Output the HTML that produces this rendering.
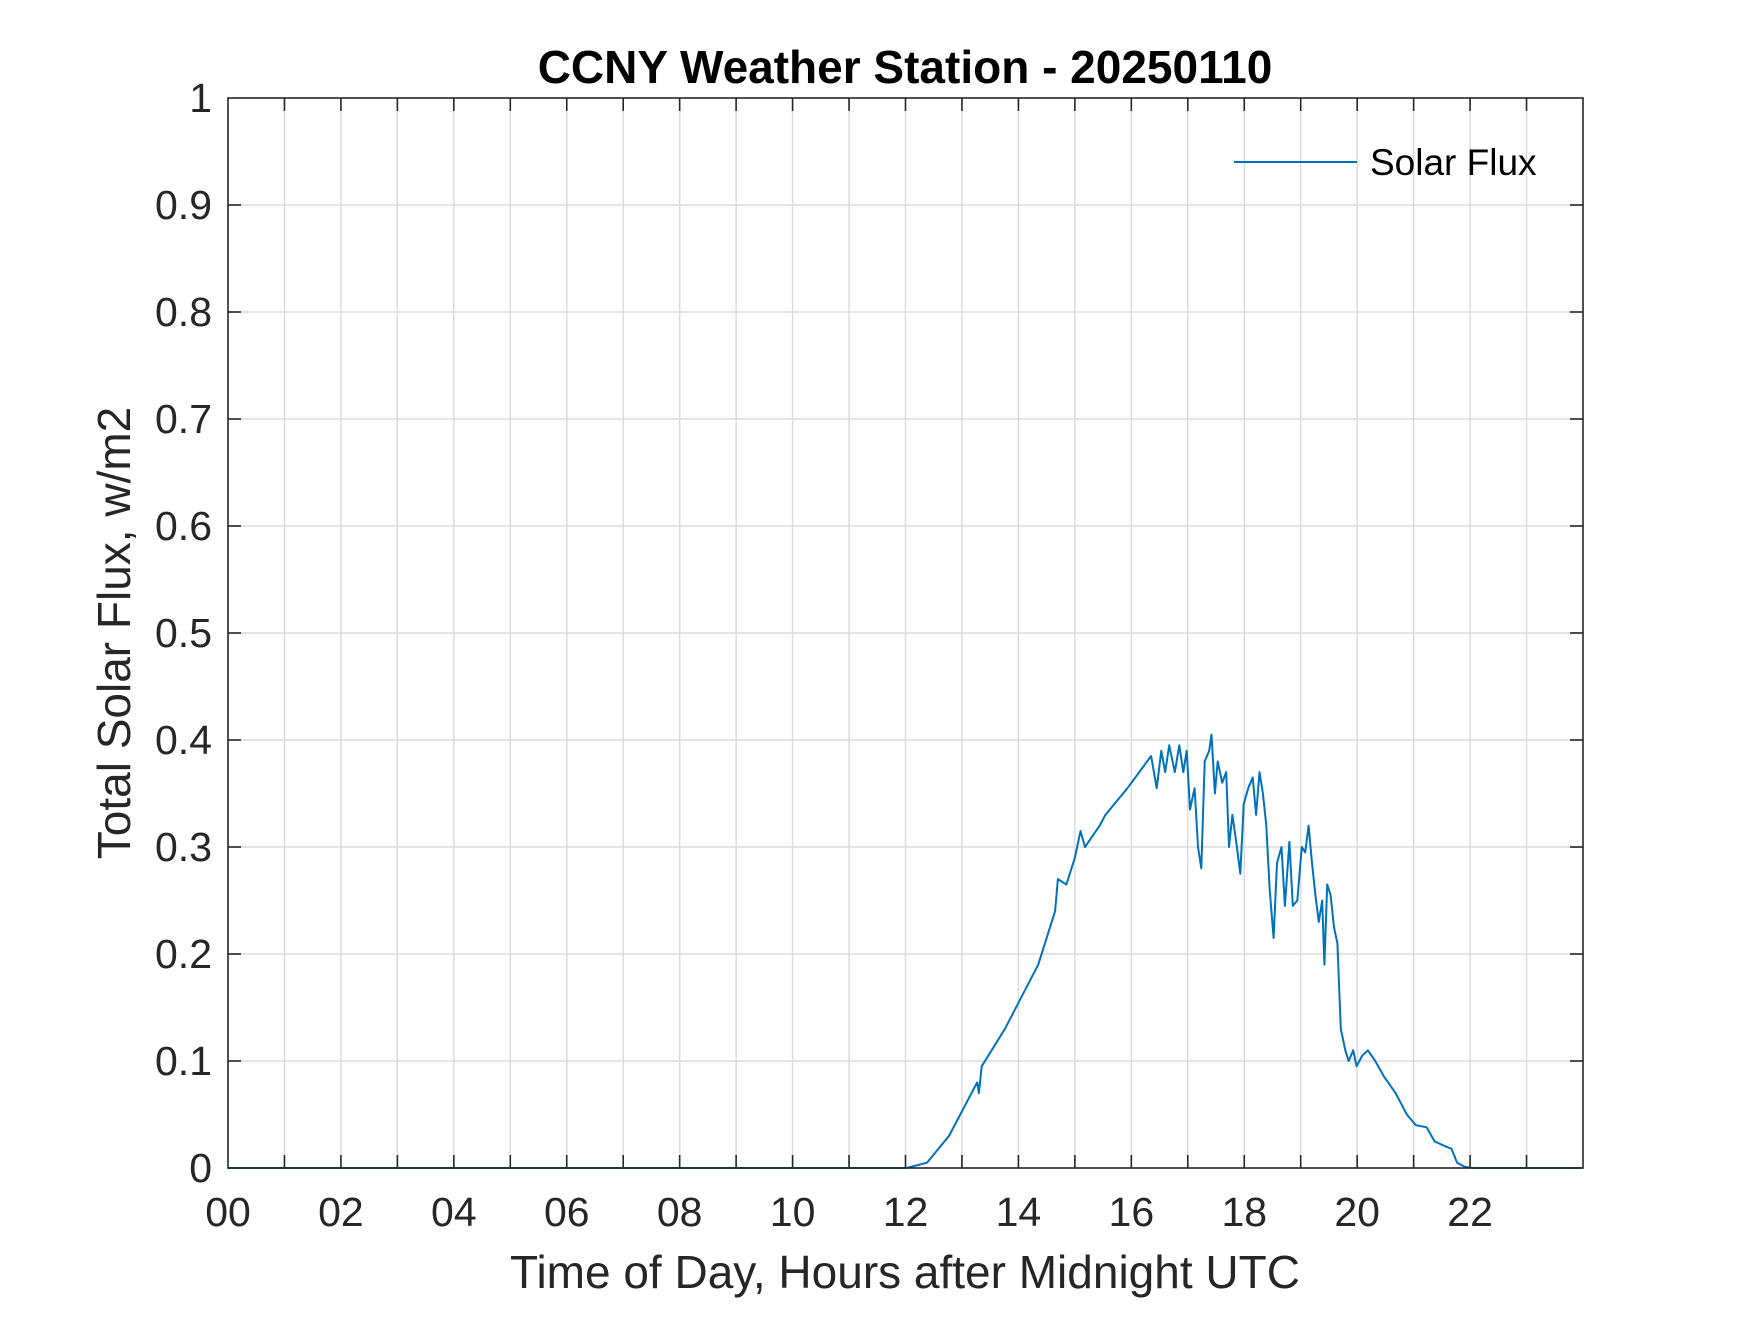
<!DOCTYPE html>
<html><head><meta charset="utf-8"><style>
html,body{margin:0;padding:0;background:#fff;}
svg text{font-family:"Liberation Sans",Arial,sans-serif;fill:#262626;}
</style></head><body>
<svg id="chart" width="1750" height="1313" viewBox="0 0 1750 1313" xmlns="http://www.w3.org/2000/svg">
<rect width="1750" height="1313" fill="#fff"/>
<g id="grid"></g>
<g id="ticks"></g>
<g id="series"></g>
<rect x="228" y="98" width="1355" height="1070" fill="none" stroke="#262626" stroke-width="1.6"/>
<text x="905" y="83" text-anchor="middle" font-size="46" font-weight="bold" style="fill:#000">CCNY Weather Station - 20250110</text>
<text x="905" y="1288" text-anchor="middle" font-size="46">Time of Day, Hours after Midnight UTC</text>
<text transform="translate(130,633) rotate(-90)" text-anchor="middle" font-size="46">Total Solar Flux, w/m2</text>
<g>
<line x1="1234" y1="162" x2="1357" y2="162" stroke="#0072BD" stroke-width="2"/>
<text x="1370" y="175" font-size="37" style="fill:#000">Solar Flux</text>
</g>
</svg>
<script>
const hours = [0,12.02,12.38,12.77,13.07,13.27,13.3,13.35,13.76,14.35,14.65,14.7,14.85,15.0,15.1,15.18,15.44,15.54,15.93,16.35,16.45,16.53,16.6,16.67,16.77,16.85,16.92,16.98,17.04,17.12,17.18,17.24,17.3,17.38,17.42,17.48,17.53,17.61,17.68,17.73,17.79,17.87,17.93,17.99,18.07,18.15,18.21,18.27,18.33,18.39,18.45,18.52,18.58,18.66,18.72,18.8,18.86,18.94,19.02,19.08,19.14,19.2,19.26,19.32,19.38,19.42,19.47,19.53,19.59,19.65,19.71,19.79,19.85,19.93,19.99,20.09,20.19,20.32,20.48,20.68,20.88,21.04,21.23,21.37,21.57,21.67,21.77,21.91,22.06,23.98];
const flux = [0,0,0.005,0.03,0.06,0.08,0.07,0.095,0.13,0.19,0.24,0.27,0.265,0.29,0.315,0.30,0.32,0.33,0.355,0.385,0.355,0.39,0.37,0.395,0.37,0.395,0.37,0.39,0.335,0.355,0.30,0.28,0.38,0.39,0.405,0.35,0.38,0.36,0.37,0.30,0.33,0.30,0.275,0.34,0.355,0.365,0.33,0.37,0.35,0.32,0.26,0.215,0.285,0.30,0.245,0.305,0.245,0.25,0.30,0.295,0.32,0.285,0.255,0.23,0.25,0.19,0.265,0.255,0.225,0.21,0.13,0.11,0.10,0.11,0.095,0.105,0.11,0.10,0.085,0.07,0.05,0.04,0.038,0.025,0.02,0.018,0.005,0.001,0,0];
const xTickLabels = ["00","02","04","06","08","10","12","14","16","18","20","22"];
const yTickLabels = ["0","0.1","0.2","0.3","0.4","0.5","0.6","0.7","0.8","0.9","1"];

const L=228,R=1583,T=98,B=1168,NS="http://www.w3.org/2000/svg";
function xs(h){return L+(h/24)*(R-L);}
function ys(v){return B-v*(B-T);}
function mk(tag,attrs,parent){const e=document.createElementNS(NS,tag);for(const k in attrs)e.setAttribute(k,attrs[k]);parent.appendChild(e);return e;}
const grid=document.getElementById('grid'),ticks=document.getElementById('ticks'),series=document.getElementById('series');
for(let h=1;h<24;h++){
  const g=mk('line',{x1:xs(h),x2:xs(h),y1:T,y2:B,stroke:'#dcdcdc','stroke-width':1.5},grid);
  
  
  const t1=mk('line',{x1:xs(h),x2:xs(h),y1:B,y2:B-13,stroke:'#262626','stroke-width':1.6},ticks);
  
  
  const t2=mk('line',{x1:xs(h),x2:xs(h),y1:T,y2:T+13,stroke:'#262626','stroke-width':1.6},ticks);
  
  
}
xTickLabels.forEach((lab,i)=>{
  const t=mk('text',{x:xs(i*2),y:B+58,'text-anchor':'middle','font-size':41},ticks);
  t.textContent=lab;
  
  
});
yTickLabels.forEach((lab,i)=>{
  const v=i/10,y=ys(v);
  if(i>0&&i<10){
    const g=mk('line',{x1:L,x2:R,y1:y,y2:y,stroke:'#dcdcdc','stroke-width':1.5},grid);
    
    
    const t1=mk('line',{x1:L,x2:L+13,y1:y,y2:y,stroke:'#262626','stroke-width':1.6},ticks);
    
    
    const t2=mk('line',{x1:R,x2:R-13,y1:y,y2:y,stroke:'#262626','stroke-width':1.6},ticks);
    
    
  }
  const t=mk('text',{x:L-16,y:y+14,'text-anchor':'end','font-size':41},ticks);
  t.textContent=lab;
  
  
});
const pts=hours.map((h,i)=>xs(h).toFixed(1)+','+ys(flux[i]).toFixed(1)).join(' ');
const pl=mk('polyline',{points:pts,fill:'none',stroke:'#0072BD','stroke-width':2,'stroke-linejoin':'round'},series);


</script>
</body></html>
